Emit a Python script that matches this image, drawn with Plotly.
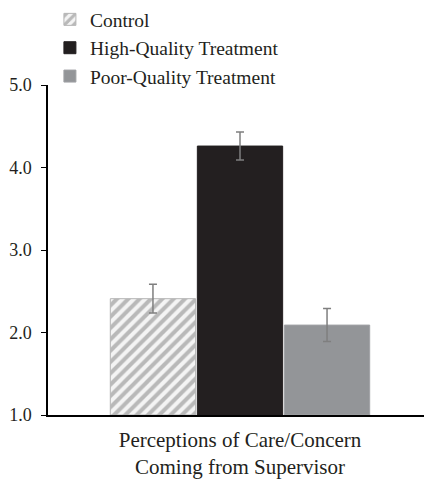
import plotly.graph_objects as go

category = ["Perceptions of Care/Concern<br>Coming from Supervisor"]
series_names = ["Control", "High-Quality Treatment", "Poor-Quality Treatment"]
means = [2.41, 4.26, 2.09]
errors = [0.175, 0.17, 0.20]
tick_vals = [1.0, 2.0, 3.0, 4.0, 5.0]
tick_text = ["1.0", "2.0", "3.0", "4.0", "5.0"]

fill = ["#f2f2f2", "#231f20", "#939598"]
lines = ["#b5b5b5", "#231f20", "#a0a2a5"]

FONT = "Times New Roman, Liberation Serif, DejaVu Serif, serif"

fig = go.Figure()
for i, name in enumerate(series_names):
    marker = dict(color=fill[i], line=dict(color=lines[i], width=1))
    if i == 0:
        marker["pattern"] = dict(shape="/", fgcolor="#7d7d7d", bgcolor="#f4f4f4",
                                 size=8, solidity=0.5)
    fig.add_trace(go.Bar(
        x=category, y=[means[i] - 1.0], base=1.0, name=name,
        legendgroup=f"g{i}",
        marker=marker,
        error_y=dict(type="data", array=[errors[i]], color="#7f7f7f",
                     thickness=1.5, width=4),
    ))

# page body adds an 8px offset; figure is shrunk so the plot lands where the reference has it
fig.update_layout(
    width=424, height=474,
    margin=dict(l=40, r=0, t=77, b=67, autoexpand=False),
    paper_bgcolor="white", plot_bgcolor="white",
    barmode="group", bargap=0.32, bargroupgap=0.02,
    font=dict(family=FONT, size=21, color="#231f20"),
    showlegend=True,
    legend=dict(x=0.005, y=1.257, xanchor="left", yanchor="top",
                font=dict(family=FONT, size=19.5, color="#231f20"), itemwidth=30,
                tracegroupgap=0, bgcolor="rgba(0,0,0,0)"),
    xaxis=dict(showline=True, linecolor="#000000", linewidth=1.5,
               ticks="", showgrid=False, ticklabelstandoff=5,
               tickfont=dict(family=FONT, size=21)),
    yaxis=dict(range=[1.0, 5.0], tickvals=tick_vals, ticktext=tick_text,
               showline=True, linecolor="#000000", linewidth=1.5,
               ticks="outside", ticklen=5, tickcolor="#000000",
               ticklabelstandoff=6,
               showgrid=False, zeroline=False, tickfont=dict(family=FONT, size=18)),
)

fig.write_html("out.html")
